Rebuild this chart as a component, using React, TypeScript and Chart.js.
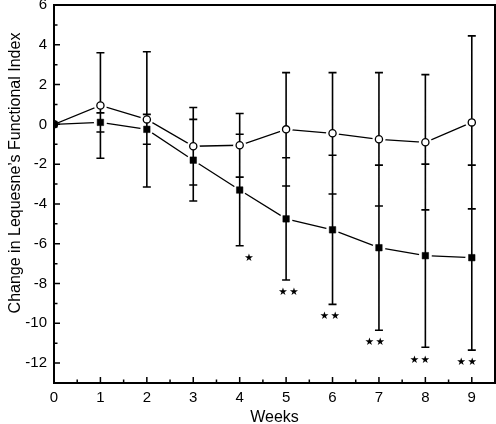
import { useEffect, useRef } from 'react';
import { Chart, registerables } from 'chart.js';

Chart.register(...registerables);

const weeks = [0, 1, 2, 3, 4, 5, 6, 7, 8, 9];
const squareMean = [0, 0.1, -0.25, -1.8, -3.3, -4.75, -5.3, -6.2, -6.6, -6.7];
const squareErr = [0, 0.48, 0.75, 2.05, 2.8, 3.07, 3.75, 4.15, 4.6, 4.65];
const circleMean = [0, 0.95, 0.25, -1.1, -1.05, -0.25, -0.45, -0.75, -0.9, 0.1];
const circleErr = [0, 2.65, 3.4, 1.95, 1.6, 2.85, 3.05, 3.35, 3.4, 4.35];

const xTickValues = [0, 1, 2, 3, 4, 5, 6, 7, 8, 9];
const yTickValues = [-12, -10, -8, -6, -4, -2, 0, 2, 4, 6];

const starWeeks = [4.2, 5.05, 5.94, 6.91, 7.88, 8.89];
const starValues = [-6.75, -8.45, -9.65, -10.97, -11.86, -11.94];
const starLabels = ['★', '★★', '★★', '★★', '★★', '★★'];

const xTitle = 'Weeks';
const yTitle = 'Change in Lequesne\u2019s Functional Index';

const FONT = '"Liberation Sans", Arial, Helvetica, sans-serif';

const noPad = (scale: any) => {
  scale.paddingLeft = 0;
  scale.paddingRight = 0;
  scale.paddingTop = 0;
  scale.paddingBottom = 0;
};

export default function App() {
  const ref = useRef<HTMLCanvasElement | null>(null);

  useEffect(() => {
    document.body.style.margin = '0';
    const canvas = ref.current;
    if (!canvas) return;

    const pts = (m: number[]) => weeks.map((w, i) => ({ x: w, y: m[i] }));
    const haloPts = [...pts(squareMean), ...pts(circleMean)].filter((p) => p.x > 0);

    const extras = {
      id: 'extras',
      beforeDatasetsDraw(chart: any) {
        const { ctx, chartArea } = chart;
        const xs = chart.scales.x;
        const ys = chart.scales.y;
        ctx.save();
        ctx.strokeStyle = '#000';
        ctx.lineWidth = 2;
        ctx.strokeRect(chartArea.left, chartArea.top, chartArea.right - chartArea.left, chartArea.bottom - chartArea.top);
        ctx.lineWidth = 1.5;
        ctx.beginPath();
        for (let i = 0; i < xTickValues.length; i++) {
          const px = xs.getPixelForValue(xTickValues[i]);
          ctx.moveTo(px, chartArea.bottom);
          ctx.lineTo(px, chartArea.bottom - 6);
          if (i < xTickValues.length - 1) {
            const mx = xs.getPixelForValue((xTickValues[i] + xTickValues[i + 1]) / 2);
            ctx.moveTo(mx, chartArea.bottom);
            ctx.lineTo(mx, chartArea.bottom - 3.5);
          }
        }
        for (let i = 0; i < yTickValues.length; i++) {
          const py = ys.getPixelForValue(yTickValues[i]);
          ctx.moveTo(chartArea.left, py);
          ctx.lineTo(chartArea.left + 6, py);
          if (i < yTickValues.length - 1) {
            const my = ys.getPixelForValue((yTickValues[i] + yTickValues[i + 1]) / 2);
            ctx.moveTo(chartArea.left, my);
            ctx.lineTo(chartArea.left + 3.5, my);
          }
        }
        ctx.stroke();
        ctx.restore();
      },
      afterDatasetDraw(chart: any, args: any) {
        if (args.index !== 2) return;
        const { ctx } = chart;
        const xs = chart.scales.x;
        const ys = chart.scales.y;
        ctx.save();
        ctx.strokeStyle = '#000';
        ctx.lineWidth = 1.6;
        ctx.beginPath();
        const bars = (m: number[], e: number[]) => {
          for (let i = 0; i < weeks.length; i++) {
            if (!e[i]) continue;
            const px = xs.getPixelForValue(weeks[i]);
            const top = ys.getPixelForValue(m[i] + e[i]);
            const bot = ys.getPixelForValue(m[i] - e[i]);
            ctx.moveTo(px, top);
            ctx.lineTo(px, bot);
            ctx.moveTo(px - 4, top);
            ctx.lineTo(px + 4, top);
            ctx.moveTo(px - 4, bot);
            ctx.lineTo(px + 4, bot);
          }
        };
        bars(circleMean, circleErr);
        bars(squareMean, squareErr);
        ctx.stroke();
        ctx.restore();
      },
      afterDatasetsDraw(chart: any) {
        const { ctx } = chart;
        const xs = chart.scales.x;
        const ys = chart.scales.y;
        ctx.save();
        ctx.fillStyle = '#000';
        ctx.textAlign = 'center';
        ctx.textBaseline = 'middle';
        ctx.font = '10.5px "DejaVu Sans", sans-serif';
        (ctx as any).letterSpacing = '1.5px';
        for (let i = 0; i < starWeeks.length; i++) {
          ctx.fillText(starLabels[i], xs.getPixelForValue(starWeeks[i]) + 0.8, ys.getPixelForValue(starValues[i]));
        }
        (ctx as any).letterSpacing = '0px';
        ctx.font = '16px ' + FONT;
        ctx.textBaseline = 'alphabetic';
        ctx.translate(20, 173);
        ctx.rotate(-Math.PI / 2);
        ctx.fillText(yTitle, 0, 0);
        ctx.restore();
      },
    };

    const chart = new Chart(canvas, {
      type: 'scatter',
      data: {
        datasets: [
          {
            data: pts(squareMean),
            showLine: true,
            borderColor: '#000',
            borderWidth: 1.3,
            pointRadius: 0,
            order: 6,
          },
          {
            data: pts(circleMean),
            showLine: true,
            borderColor: '#000',
            borderWidth: 1.3,
            pointRadius: 0,
            order: 5,
          },
          {
            data: haloPts,
            showLine: false,
            pointRadius: 6.5,
            pointBackgroundColor: '#fff',
            pointBorderWidth: 0,
            pointBorderColor: '#fff',
            order: 4,
          },
          {
            data: pts(squareMean),
            showLine: false,
            pointStyle: 'rect',
            pointRadius: 4.6,
            pointBackgroundColor: '#000',
            pointBorderColor: '#000',
            pointBorderWidth: 0.5,
            order: 1,
          },
          {
            data: pts(circleMean),
            showLine: false,
            pointStyle: 'circle',
            pointRadius: 3.6,
            pointBackgroundColor: '#fff',
            pointBorderColor: '#000',
            pointBorderWidth: 1.3,
            order: 2,
          },
        ],
      },
      options: {
        responsive: false,
        animation: false,
        events: [],
        layout: { autoPadding: false, padding: { top: 5, right: 1, left: 0, bottom: 0 } },
        plugins: {
          legend: { display: false },
          tooltip: { enabled: false },
        },
        scales: {
          x: {
            type: 'linear',
            min: 0,
            max: 9.5,
            border: { display: false },
            grid: { display: false, drawTicks: false },
            afterBuildTicks: (scale: any) => {
              scale.ticks = xTickValues.map((v) => ({ value: v }));
            },
            afterFit: (scale: any) => {
              scale.height = 41;
              noPad(scale);
            },
            ticks: {
              color: '#000',
              padding: 6,
              maxRotation: 0,
              autoSkip: false,
              font: { family: FONT, size: 15 },
            },
            title: {
              display: true,
              text: xTitle,
              color: '#000',
              padding: { top: 0, bottom: -3 },
              font: { family: FONT, size: 16 },
            },
          },
          y: {
            type: 'linear',
            min: -13,
            max: 6,
            border: { display: false },
            grid: { display: false, drawTicks: false },
            afterBuildTicks: (scale: any) => {
              scale.ticks = yTickValues.map((v) => ({ value: v }));
            },
            afterFit: (scale: any) => {
              scale.width = 54;
              noPad(scale);
            },
            ticks: {
              color: '#000',
              padding: 7,
              autoSkip: false,
              font: { family: FONT, size: 15 },
            },
          },
        },
      },
      plugins: [extras],
    });

    return () => chart.destroy();
  }, []);

  return (
    <canvas
      ref={ref}
      width={496}
      height={424}
      style={{ display: 'block', width: 496, height: 424 }}
    />
  );
}
